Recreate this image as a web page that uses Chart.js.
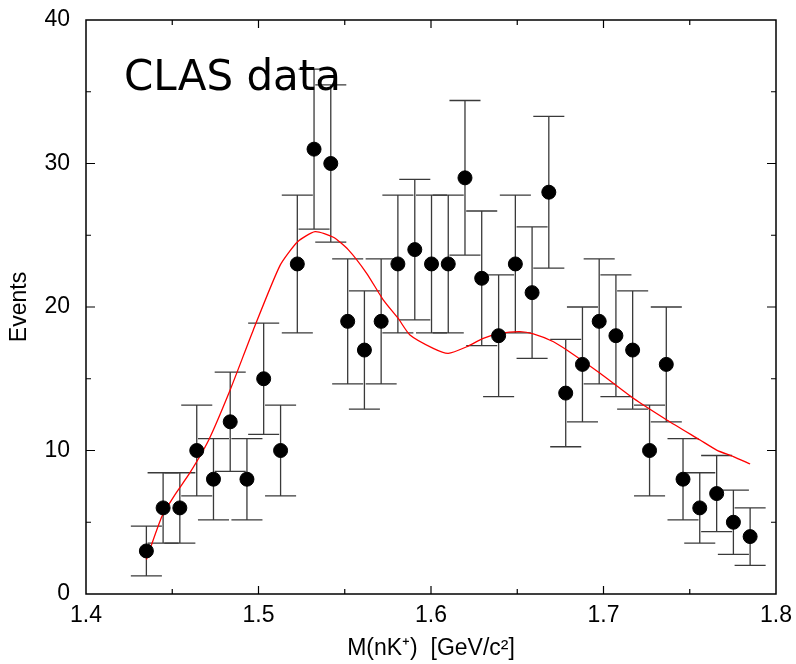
<!DOCTYPE html>
<html>
<head>
<meta charset="utf-8">
<script src="https://cdn.jsdelivr.net/npm/chart.js@4"></script>
<style>
  body { margin: 0; background: #fff; }
  canvas { display: block; }
</style>
</head>
<body>
<canvas id="massChart" width="796" height="664"></canvas>
<script>
// Bin centres, counts and statistical errors
const binMass = [1.4350, 1.4447, 1.4544, 1.4642, 1.4739, 1.4836, 1.4933, 1.5030, 1.5128, 1.5225,
                 1.5322, 1.5419, 1.5517, 1.5614, 1.5711, 1.5808, 1.5906, 1.6003, 1.6100, 1.6197,
                 1.6294, 1.6392, 1.6489, 1.6586, 1.6683, 1.6781, 1.6878, 1.6975, 1.7072, 1.7169,
                 1.7267, 1.7364, 1.7461, 1.7558, 1.7656, 1.7753, 1.7850];
const binEvents = [3, 6, 6, 10, 8, 12, 8, 15, 10, 23,
                   31, 30, 19, 17, 19, 23, 24, 23, 23, 29,
                   22, 18, 23, 21, 28, 14, 16, 19, 18, 17,
                   10, 16, 8, 6, 7, 5, 4];
const binErrors = [1.73, 2.45, 2.45, 3.16, 2.83, 3.46, 2.83, 3.87, 3.16, 4.80,
                   5.57, 5.48, 4.36, 4.12, 4.36, 4.80, 4.90, 4.80, 4.80, 5.39,
                   4.69, 4.24, 4.80, 4.58, 5.29, 3.74, 4.00, 4.36, 4.24, 4.12,
                   3.16, 4.00, 2.83, 2.45, 2.65, 2.24, 2.00];

// Red fit curve
const curveMass = [1.435, 1.444, 1.452, 1.460, 1.471, 1.4835, 1.497, 1.5125, 1.5227, 1.5328,
                   1.5434, 1.552, 1.5627, 1.5723, 1.581, 1.5878, 1.6013, 1.610, 1.6207, 1.6303,
                   1.640, 1.6516, 1.6593, 1.671, 1.6787, 1.698, 1.7173, 1.7367, 1.756, 1.7656,
                   1.7753, 1.785];
const curveEvents = [2.4, 5.4, 7.0, 8.4, 10.7, 14.2, 18.4, 22.9, 24.55, 25.25,
                     24.86, 24.0, 22.35, 20.5, 19.2, 18.05, 17.12, 16.77, 17.23, 17.82,
                     18.16, 18.28, 18.12, 17.58, 17.0, 15.38, 13.64, 12.13, 10.73, 10.03,
                     9.57, 9.06];

const xTicks = [1.4, 1.5, 1.6, 1.7, 1.8];
const yTicks = [0, 10, 20, 30, 40];

const points = binMass.map((m, i) => ({ x: m, y: binEvents[i] }));
const curve = curveMass.map((m, i) => ({ x: m, y: curveEvents[i] }));

// error bars with caps, drawn before the markers
const errorBars = {
    id: 'errorBars',
    beforeDatasetsDraw(chart) {
        const ctx = chart.ctx;
        const xs = chart.scales.x;
        const ys = chart.scales.y;
        const halfCap = 0.009;
        ctx.save();
        ctx.strokeStyle = '#3a3a3a';
        ctx.lineWidth = 1.3;
        binMass.forEach((m, i) => {
            const px = xs.getPixelForValue(m);
            const hi = ys.getPixelForValue(binEvents[i] + binErrors[i]);
            const lo = ys.getPixelForValue(binEvents[i] - binErrors[i]);
            const cl = xs.getPixelForValue(m - halfCap);
            const cr = xs.getPixelForValue(m + halfCap);
            ctx.beginPath();
            ctx.moveTo(px, hi); ctx.lineTo(px, lo);
            ctx.moveTo(cl, hi); ctx.lineTo(cr, hi);
            ctx.moveTo(cl, lo); ctx.lineTo(cr, lo);
            ctx.stroke();
        });
        ctx.restore();
    }
};

// frame with inward ticks on all four sides plus the label text
const frame = {
    id: 'frame',
    afterDraw(chart) {
        const ctx = chart.ctx;
        const a = chart.chartArea;
        const xs = chart.scales.x;
        const ys = chart.scales.y;
        ctx.save();
        ctx.strokeStyle = '#000';
        ctx.lineWidth = 1.5;
        ctx.strokeRect(a.left, a.top, a.right - a.left, a.bottom - a.top);
        ctx.lineWidth = 1.2;
        ctx.beginPath();
        for (let v = 5; v < 40; v += 5) {
            const len = v % 10 === 0 ? 9 : 5;
            const py = ys.getPixelForValue(v);
            ctx.moveTo(a.left, py); ctx.lineTo(a.left + len, py);
            ctx.moveTo(a.right, py); ctx.lineTo(a.right - len, py);
        }
        for (let k = 1; k < 8; k++) {
            const v = 1.4 + k * 0.05;
            const len = k % 2 === 0 ? 8 : 5;
            const px = xs.getPixelForValue(v);
            ctx.moveTo(px, a.bottom); ctx.lineTo(px, a.bottom - len);
            ctx.moveTo(px, a.top); ctx.lineTo(px, a.top + len);
        }
        ctx.stroke();

        ctx.fillStyle = '#000';
        ctx.font = '42px "DejaVu Sans"';
        ctx.textBaseline = 'alphabetic';
        ctx.fillText('CLAS data', 124, 90);
        ctx.restore();
    }
};

const ctx = document.getElementById('massChart').getContext('2d');
new Chart(ctx, {
    type: 'scatter',
    data: {
        datasets: [{
            label: 'CLAS data',
            data: points,
            backgroundColor: '#000',
            borderColor: '#000',
            pointRadius: 7,
            pointHoverRadius: 7,
            order: 0
        }, {
            label: 'fit',
            type: 'line',
            data: curve,
            borderColor: '#ff0000',
            borderWidth: 1.3,
            pointRadius: 0,
            tension: 0.2,
            fill: false,
            order: 1
        }]
    },
    options: {
        responsive: false,
        animation: false,
        devicePixelRatio: 1,
        layout: { padding: { left: 0, right: 20, top: 20, bottom: 0 } },
        plugins: { legend: { display: false }, tooltip: { enabled: false } },
        scales: {
            x: {
                type: 'linear',
                min: 1.4,
                max: 1.8,
                afterBuildTicks: scale => { scale.ticks = xTicks.map(v => ({ value: v })); },
                afterFit: scale => {
                    scale.height = 70;
                    scale.paddingLeft = 0;
                    scale.paddingRight = 0;
                },
                grid: { display: false, drawTicks: false },
                border: { display: false },
                ticks: {
                    padding: 8,
                    color: '#000',
                    font: { family: '"Liberation Sans"', size: 23 },
                    callback: v => v.toFixed(1)
                },
                title: {
                    display: true,
                    text: 'M(nK\u207A)  [GeV/c\u00B2]',
                    color: '#000',
                    font: { family: '"Liberation Sans"', size: 23 },
                    padding: { top: 0, bottom: 2 }
                }
            },
            y: {
                min: 0,
                max: 40,
                afterBuildTicks: scale => { scale.ticks = yTicks.map(v => ({ value: v })); },
                afterFit: scale => {
                    scale.width = 86;
                    scale.paddingTop = 0;
                    scale.paddingBottom = 0;
                },
                grid: { display: false, drawTicks: false },
                border: { display: false },
                ticks: {
                    padding: 16,
                    color: '#000',
                    font: { family: '"Liberation Sans"', size: 23 }
                },
                title: {
                    display: true,
                    text: 'Events',
                    color: '#000',
                    font: { family: '"Liberation Sans"', size: 23 },
                    padding: { top: 6, bottom: 0 }
                }
            }
        }
    },
    plugins: [errorBars, frame]
});
</script>
</body>
</html>
